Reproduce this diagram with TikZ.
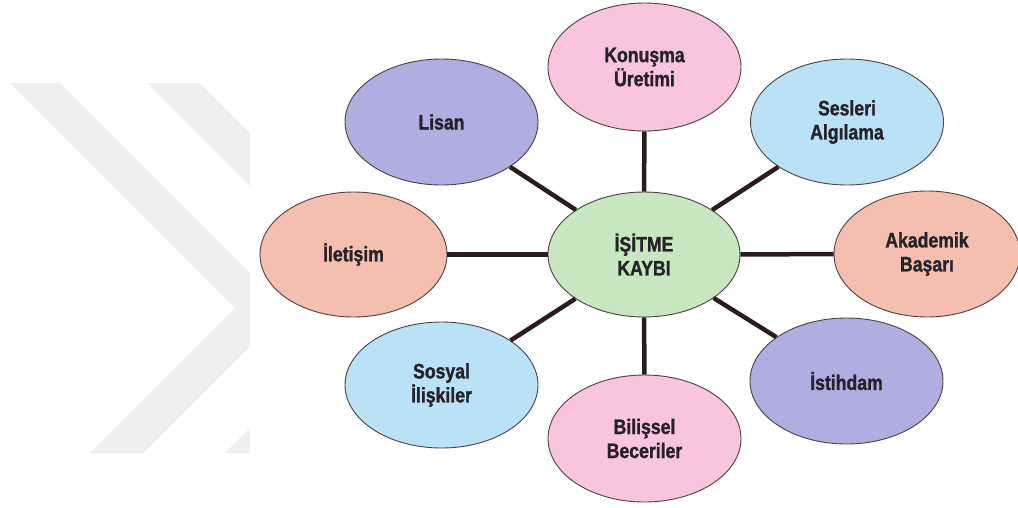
\documentclass[tikz,border=0pt]{standalone}
\usepackage{fontspec}
\setmainfont[FakeStretch=0.84, BoldFeatures={FakeBold=1.2}]{Liberation Sans}
\usetikzlibrary{shapes.geometric}
\definecolor{wm}{HTML}{EFEFEF}
\definecolor{cgreen}{HTML}{C7E7C0}
\definecolor{cpink}{HTML}{F8C4DE}
\definecolor{cpurple}{HTML}{AFAEE0}
\definecolor{cblue}{HTML}{B9E2F7}
\definecolor{csalmon}{HTML}{F4BFAE}
\definecolor{edge}{HTML}{4E3F42}
\definecolor{conn}{HTML}{2A1B1E}
\definecolor{txt}{HTML}{26222A}
\tikzset{
  bub/.style={ellipse, draw=edge, line width=0.9pt, inner sep=0pt,
    minimum width=193pt, minimum height=126pt, align=center,
    text=txt, font=\bfseries\fontsize{21}{24}\selectfont},
  link/.style={draw=conn, line width=4.5pt}
}
\begin{document}
\begin{tikzpicture}[x=1pt,y=-1pt]
\useasboundingbox (0,0) rectangle (1018,507);
% watermark
\begin{scope}
\clip (0,83) rectangle (250,453);
\fill[wm] (10,83) -- (60,83) -- (286.5,309.5) -- (143,453) -- (90,453) -- (235,308) -- cycle;
\fill[wm] (147,83) -- (200,83) -- (424,307) -- (278,453) -- (225,453) -- (371,307) -- cycle;
\end{scope}
% nodes
\node[bub, fill=cgreen, minimum width=192pt, minimum height=125pt] (c) at (644,254.5) {İŞİTME\\KAYBI};
\node[bub, fill=cpink, minimum height=128pt] (konusma) at (644.5,67) {Konuşma\\Üretimi};
\node[bub, fill=cpurple] (lisan) at (441.5,122) {Lisan};
\node[bub, fill=cblue] (sesleri) at (847,122) {Sesleri\\Algılama};
\node[bub, fill=csalmon, minimum width=187pt, minimum height=125pt] (iletisim) at (353.5,254.5) {İletişim};
\node[bub, fill=csalmon, minimum width=186pt] (akademik) at (927,254) {Akademik\\Başarı};
\node[bub, fill=cblue] (sosyal) at (441.5,385) {Sosyal\\İlişkiler};
\node[bub, fill=cpurple] (istihdam) at (846.5,381) {İstihdam};
\node[bub, fill=cpink, minimum height=127pt] (bilissel) at (644.5,438.5) {Bilişsel\\Beceriler};
% connectors
\foreach \n in {konusma,lisan,sesleri,iletisim,akademik,sosyal,istihdam,bilissel}
  \draw[link] (c) -- (\n);
\end{tikzpicture}
\end{document}
